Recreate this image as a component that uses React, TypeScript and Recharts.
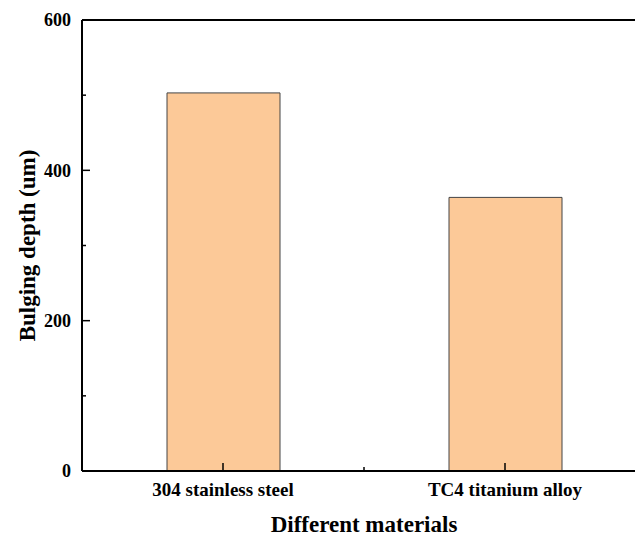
import React from 'react';
import { BarChart, Bar, XAxis, YAxis, ReferenceLine } from 'recharts';

const categories = ['304 stainless steel', 'TC4 titanium alloy'];
const depths = [503, 364];
const yTicks = [0, 100, 200, 300, 400, 500, 600];
const xTicks = [-0.5, 0, 0.5, 1, 1.5];

const data = categories.map((name, i) => ({ x: i, name, value: depths[i] }));

const FONT = "'Liberation Serif', 'Times New Roman', Times, serif";
const txt = (size: number): React.CSSProperties => ({ fontFamily: FONT, fontWeight: 'bold', fontSize: size, fill: '#000' });

const YTick = (props: any) => {
  const { x, y, payload } = props;
  const major = payload.value % 200 === 0;
  return (
    <g>
      <line x1={x} x2={x + (major ? 8 : 4)} y1={y} y2={y} stroke="#000" strokeWidth={1.5} />
      {major && (
        <text x={x - 11} y={y} dy="0.35em" textAnchor="end" style={txt(18)}>
          {payload.value}
        </text>
      )}
    </g>
  );
};

const XTick = (props: any) => {
  const { x, y, payload } = props;
  const v = payload.value;
  const major = Number.isInteger(v);
  return (
    <g>
      <line x1={x} x2={x} y1={y} y2={y - (major ? 8 : 4)} stroke="#000" strokeWidth={1.5} />
      {major && categories[v] !== undefined && (
        <text x={x} y={y + 25} textAnchor="middle" style={txt(19)}>
          {categories[v]}
        </text>
      )}
    </g>
  );
};

const XTitle = (props: any) => {
  const vb = props.viewBox;
  return (
    <text x={vb.x + vb.width / 2} y={vb.y + 61} textAnchor="middle" style={txt(23)}>
      Different materials
    </text>
  );
};

const YTitle = (props: any) => {
  const vb = props.viewBox;
  const cx = 27;
  const cy = vb.y + vb.height / 2;
  return (
    <text x={cx} y={cy} dy="0.35em" textAnchor="middle" transform={`rotate(-90 ${cx} ${cy})`} style={txt(23)}>
      Bulging depth (um)
    </text>
  );
};

export default function App() {
  return (
    <div style={{ position: 'fixed', left: 0, top: 0, width: 635, height: 536, overflow: 'hidden', background: '#fff' }}>
      <BarChart width={700} height={536} data={data} margin={{ top: 20, right: 54, bottom: 0, left: 0 }}>
        <XAxis
          dataKey="x"
          type="number"
          domain={[-0.5, 1.5]}
          ticks={xTicks}
          interval={0}
          height={65}
          tickSize={0}
          tickMargin={0}
          tickLine={false}
          tick={<XTick />}
          axisLine={{ stroke: '#000', strokeWidth: 2 }}
          label={<XTitle />}
          allowDataOverflow
        />
        <YAxis
          type="number"
          domain={[0, 600]}
          ticks={yTicks}
          interval={0}
          width={82}
          tickSize={0}
          tickMargin={0}
          tickLine={false}
          tick={<YTick />}
          axisLine={{ stroke: '#000', strokeWidth: 2 }}
          label={<YTitle />}
        />
        <ReferenceLine y={600} stroke="#000" strokeWidth={2} ifOverflow="visible" />
        <Bar dataKey="value" barSize={113} fill="#FCC998" stroke="#444" strokeWidth={1} isAnimationActive={false} />
      </BarChart>
    </div>
  );
}
